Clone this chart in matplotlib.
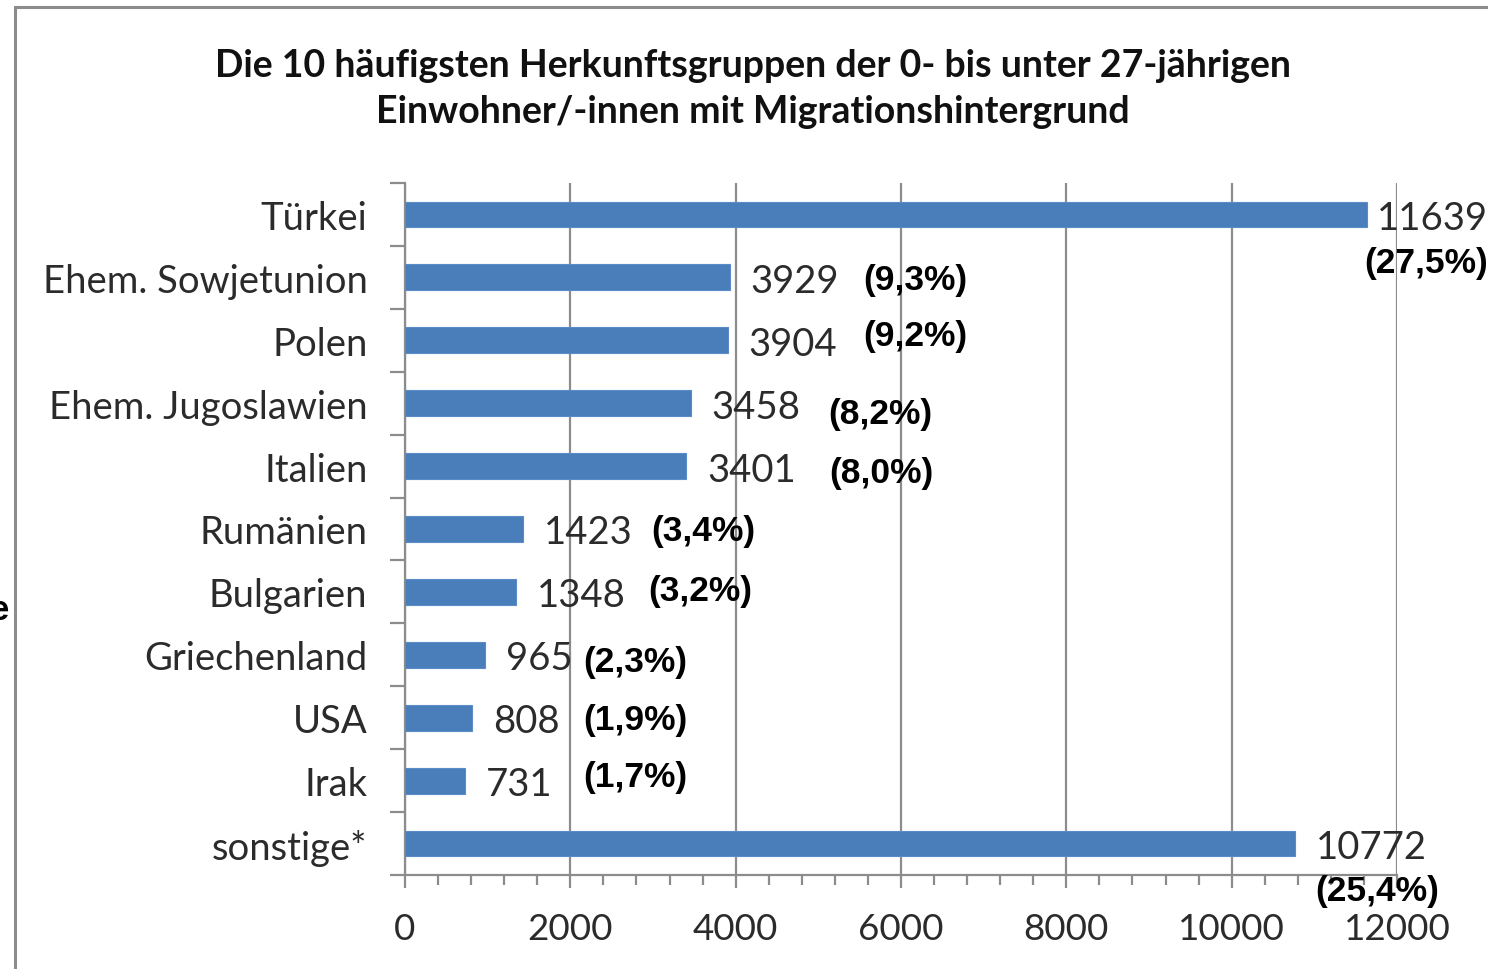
import matplotlib
matplotlib.use("Agg")
import matplotlib.pyplot as plt
from matplotlib.ticker import MultipleLocator, FixedLocator
from matplotlib.patches import Rectangle

# ---- data ----
categories = ["Türkei", "Ehem. Sowjetunion", "Polen", "Ehem. Jugoslawien", "Italien",
              "Rumänien", "Bulgarien", "Griechenland", "USA", "Irak", "sonstige*"]
values = [11639, 3929, 3904, 3458, 3401, 1423, 1348, 965, 808, 731, 10772]
percent_labels = ["(27,5%)", "(9,3%)", "(9,2%)", "(8,2%)", "(8,0%)", "(3,4%)",
                  "(3,2%)", "(2,3%)", "(1,9%)", "(1,7%)", "(25,4%)"]
x_ticks = [0, 2000, 4000, 6000, 8000, 10000, 12000]
title = ("Die 10 häufigsten Herkunftsgruppen der 0- bis unter 27-jährigen\n"
         "Einwohner/-innen mit Migrationshintergrund")

# ---- label placement (layout, not data) ----
value_gap_pt = [7, 15, 15, 15, 15, 15, 15, 15, 15, 15, 15]
pct_x = [12350, 6169, 6169, 5746, 5758, 3605, 3568, 2782, 2782, 2782, 11758]
pct_dy = [0.76, 0.03, -0.08, 0.16, 0.10, 0.02, -0.02, 0.11, 0.03, -0.06, 0.75]

W, H = 1488, 970
fig = plt.figure(figsize=(W / 100, H / 100), dpi=100)
fig.patch.set_facecolor("white")

# outer frame of the chart area
fig.patches.append(Rectangle((15 / W, -0.05), 1.2, 1 - 8 / H + 0.05,
                             transform=fig.transFigure, fill=False,
                             edgecolor="#8c8c8c", linewidth=2.2, clip_on=False))
# cut-off character at left edge
fig.text(9 / W, 1 - 610 / H, "e", ha="right", va="center", fontsize=25,
         fontweight="bold", family="Liberation Sans", color="black")

ax = fig.add_axes([405 / W, 1 - 876 / H, (1397 - 405) / W, (876 - 184) / H])
n = len(categories)
ypos = list(range(n))
ax.barh(ypos, values, height=0.41, color="#4A7EBB", edgecolor="#5b8cc8",
        linewidth=0.8, zorder=3)

ax.set_xlim(0, 12000)
ax.set_ylim(n - 0.5, -0.5)

grey = "#8c8c8c"
txt = "#2b2b2b"
ax.xaxis.set_major_locator(FixedLocator(x_ticks))
ax.xaxis.set_minor_locator(MultipleLocator(400))
ax.set_xticklabels([str(t) for t in x_ticks], family="Lato", fontsize=26.5,
                   color=txt)
ax.tick_params(axis="x", which="major", length=9, width=1.6, color=grey, pad=18)
ax.tick_params(axis="x", which="minor", length=7, width=1.6, color=grey)
ax.grid(axis="x", which="major", color=grey, linewidth=1.6, zorder=0)

ax.set_yticks(ypos)
ax.set_yticklabels(categories, family="Lato", fontsize=27.5, color=txt)
ax.tick_params(axis="y", which="major", length=0, pad=27)
ax.yaxis.set_minor_locator(FixedLocator([i - 0.5 for i in range(n + 1)]))
ax.tick_params(axis="y", which="minor", length=11, width=1.6, color=grey)

for s in ["top", "right"]:
    ax.spines[s].set_visible(False)
for s in ["left", "bottom"]:
    ax.spines[s].set_color(grey)
    ax.spines[s].set_linewidth(1.6)

for i, v in enumerate(values):
    ax.annotate(str(v), xy=(v, i), xytext=(value_gap_pt[i], -2.5),
                textcoords="offset points", ha="left", va="center",
                family="Lato", fontsize=27.5, color=txt, zorder=5,
                annotation_clip=False)
    ax.text(pct_x[i], i + pct_dy[i], percent_labels[i], ha="center", va="center",
            family="Liberation Sans", fontweight="bold", fontsize=25.5,
            color="black", zorder=5, clip_on=False)

fig.text(753 / W, 1 - 89 / H, title, ha="center", va="center", family="Lato",
         fontweight="bold", fontsize=27, color="#111111", linespacing=1.45)

fig.savefig("out.png", dpi=100, facecolor="white")
